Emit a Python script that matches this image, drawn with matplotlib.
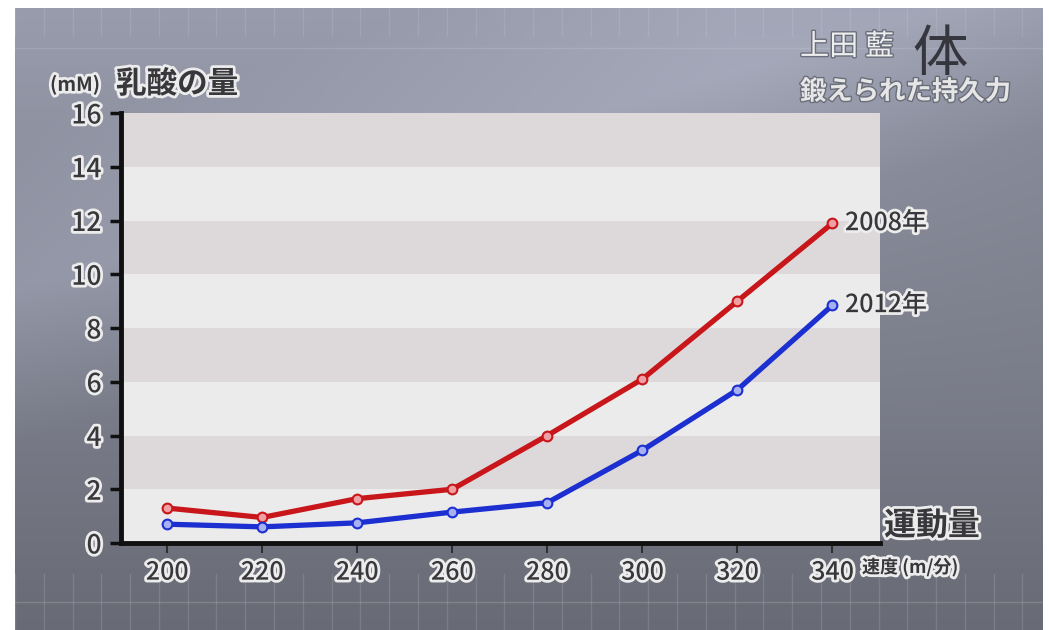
import numpy as np
import matplotlib
matplotlib.use("Agg")
import matplotlib.pyplot as plt
import matplotlib.patheffects as pe

plt.rcParams["font.family"] = ["Noto Sans CJK JP", "DejaVu Sans"]

# ---------------------------------------------------------------------------
# Data (read off the broadcast graphic)
# ---------------------------------------------------------------------------
speed = [200, 220, 240, 260, 280, 300, 320, 340]          # m/分
lactate_2008 = [1.3, 0.95, 1.65, 2.0, 4.0, 6.1, 9.0, 11.9]  # mM
lactate_2012 = [0.7, 0.6, 0.75, 1.15, 1.5, 3.45, 5.7, 8.85]  # mM
series_labels = ["2008年", "2012年"]
y_ticks = [0, 2, 4, 6, 8, 10, 12, 14, 16]

RED = "#c8161a"
BLUE = "#1c2fd0"
BAND_DARK = "#ddd9da"
BAND_LIGHT = "#ebebeb"
TXT = "#38383c"

W, H = 1049, 630
fig = plt.figure(figsize=(W / 100, H / 100), dpi=100)
fig.patch.set_facecolor("white")

# ── TV-style gradient backdrop ──────────────────────────────────────────
bg = fig.add_axes([15 / W, 0, (1043 - 15) / W, (H - 8) / H])
yy, xx = np.mgrid[0:1:200j, 0:1:300j]
shade = 0.63 - 0.2 * yy
shade += 0.07 * np.clip(1 - np.abs(xx * 0.5 + yy - 0.45) * 4, 0, 1)
shade -= 0.05 * np.clip((xx - 0.7) * 3, 0, 1) * np.clip(1 - yy * 1.5, 0, 1)
rgb = np.dstack([shade * 0.95, shade * 0.97, shade * 1.07]).clip(0, 1)
bg.imshow(rgb, aspect="auto", extent=[0, 1, 0, 1], origin="upper", interpolation="bilinear")
# faint grid at the bottom and top strips
for gx in np.arange(0.0, 1.0, 0.028):
    bg.plot([gx, gx], [0.0, 0.09], color="white", alpha=0.12, lw=1)
    bg.plot([gx, gx], [0.955, 1.0], color="white", alpha=0.10, lw=1)
bg.plot([0, 1], [0.045, 0.045], color="white", alpha=0.15, lw=1)
bg.plot([0, 1], [0.935, 0.935], color="white", alpha=0.12, lw=1)
bg.set_xlim(0, 1)
bg.set_ylim(0, 1)
bg.axis("off")

# ── Plot area ───────────────────────────────────────────────────────────
ax = fig.add_axes([121 / W, (H - 543) / H, (880 - 121) / W, (543 - 113) / H])
ax.set_xlim(190.3, 350)
ax.set_ylim(0, 16)
ax.set_facecolor(BAND_LIGHT)
for i, lo in enumerate(y_ticks[:-1]):
    ax.axhspan(lo, lo + 2, color=BAND_DARK if i % 2 == 1 else BAND_LIGHT, lw=0, zorder=0)

for vals, col, face in [(lactate_2008, RED, "#f0a0a4"), (lactate_2012, BLUE, "#a8b0f4")]:
    ax.plot(speed, vals, color=col, lw=3.8, zorder=3, solid_joinstyle="round")
    ax.plot(speed, vals, "o", ms=7, mfc=face, mec=col, mew=1.5, zorder=4)

for s in ["top", "right"]:
    ax.spines[s].set_visible(False)
for s in ["left", "bottom"]:
    ax.spines[s].set_linewidth(3.5)
    ax.spines[s].set_color("#101010")

stroke = [pe.withStroke(linewidth=4, foreground="#ececec")]

ax.set_yticks(y_ticks)
ax.set_yticklabels([str(v) for v in y_ticks], fontsize=19, color=TXT)
ax.tick_params(axis="y", length=8, width=2.5, color="#101010", pad=6)
ax.set_xticks(speed)
ax.set_xticklabels([str(v) for v in speed], fontsize=18, color=TXT)
ax.tick_params(axis="x", length=7, width=1.5, color="#303030", pad=5)
for lbl in ax.get_xticklabels() + ax.get_yticklabels():
    lbl.set_path_effects(stroke)
    lbl.set_fontweight("medium")

# series labels at the line ends
for vals, name in zip([lactate_2008, lactate_2012], series_labels):
    ax.annotate(name, (speed[-1], vals[-1]), xytext=(9, 0), textcoords="offset points",
                va="center", ha="left", fontsize=18, color=TXT, fontweight="medium",
                path_effects=stroke, annotation_clip=False)

# ── Axis titles ─────────────────────────────────────────────────────────
fig.text(50 / W, 1 - 85 / H, "(mM)", fontsize=14, color=TXT, va="center",
         path_effects=stroke, fontweight="bold")
fig.text(116 / W, 1 - 84 / H, "乳酸の量", fontsize=22, color=TXT, va="center",
         path_effects=stroke, fontweight="bold")
fig.text(884 / W, 1 - 526 / H, "運動量", fontsize=23, color=TXT, va="center",
         path_effects=stroke, fontweight="bold")
fig.text(862 / W, 1 - 567 / H, "速度 (m/分)", fontsize=13, color=TXT, va="center",
         path_effects=stroke, fontweight="bold")

# ── Programme caption (top right) ───────────────────────────────────────
light = [pe.withStroke(linewidth=2, foreground="#6a6e7a")]
fig.text(800 / W, 1 - 47 / H, "上田 藍", fontsize=21, color="#eeeeee", va="center",
         path_effects=light)
fig.text(800 / W, 1 - 92 / H, "鍛えられた持久力", fontsize=19, color="#e6e6e6",
         va="center", path_effects=light, fontweight="bold")
fig.text(940 / W, 1 - 55 / H, "体", fontsize=40, color="#1c1c22", va="center",
         ha="center", style="italic", alpha=0.8)

fig.savefig("out.png", dpi=100)
